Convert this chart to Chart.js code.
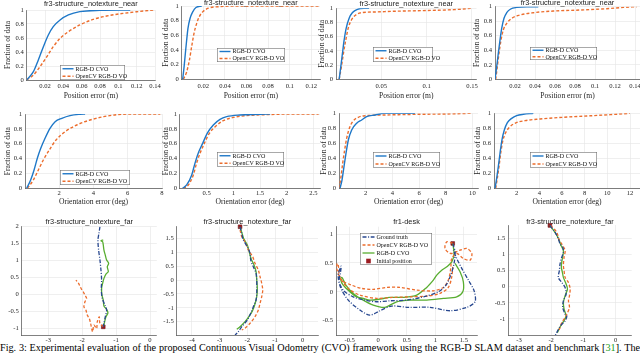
<!DOCTYPE html>
<html><head><meta charset="utf-8">
<script src="https://cdn.jsdelivr.net/npm/chart.js@4/dist/chart.umd.min.js"></script>
<style>
html,body{margin:0;padding:0;background:#fff;width:640px;height:358px;overflow:hidden;position:relative}
.c{position:absolute}
#cap{position:absolute;left:0;top:342px;width:640px;height:14px;overflow:hidden;font-family:"Liberation Serif",serif;font-size:10.2px;line-height:12px;text-align:justify;text-align-last:justify;color:#000}
</style></head><body>
<div id="cap">Fig. 3: Experimental evaluation of the proposed Continuous Visual Odometry (CVO) framework using the RGB-D SLAM dataset and benchmark [<span style="color:#23a023">31</span>]. The</div>
<script>
// ---------- DATA ----------
const fracTicks = [0, 0.2, 0.4, 0.6, 0.8, 1];
const pos1XTicks = [0.02, 0.04, 0.06, 0.08, 0.1, 0.12, 0.14];
const pos2XTicks = [0.02, 0.04, 0.06, 0.08, 0.1, 0.12];
const pos3XTicks = [0.05, 0.1, 0.15];
const pos4XTicks = [0.02, 0.04, 0.06, 0.08, 0.1, 0.12, 0.14];
const ori5XTicks = [2, 4, 6, 8];
const ori6XTicks = [0.5, 1, 1.5, 2, 2.5];
const ori7XTicks = [2, 4, 6, 8, 10];
const ori8XTicks = [2, 4, 6, 8, 10, 12];
const traj9XTicks = [-3, -2, -1, 0];
const traj9YTicks = [-1, -0.5, 0, 0.5, 1, 1.5, 2];
const traj10XTicks = [-4, -3, -2, -1, 0];
const traj10YTicks = [-1.5, -1, -0.5, 0, 0.5, 1, 1.5];
const traj11XTicks = [-0.5, 0, 0.5, 1, 1.5];
const traj11YTicks = [-0.5, 0, 0.5, 1];
const traj12XTicks = [-3, -2, -1, 0];
const traj12YTicks = [-1, -0.5, 0, 0.5, 1, 1.5];

const titleNear = 'fr3-structure_notexture_near';
const titleFar = 'fr3-structure_notexture_far';
const titleDesk = 'fr1-desk';
const labelCVO = 'RGB-D CVO';
const labelOCV = 'OpenCV RGB-D VO';
const labelGT = 'Ground truth';
const labelInit = 'Initial position';

// position error CDFs (m)
const pos1_cvo_err = [0, 0.0073, 0.0127, 0.0182, 0.0236, 0.029, 0.0364, 0.0455, 0.058, 0.08, 0.113];
const pos1_cvo_frac = [0, 0.119, 0.286, 0.476, 0.643, 0.762, 0.857, 0.929, 0.976, 0.995, 1];
const pos1_ocv_err = [0, 0.0073, 0.0145, 0.0218, 0.029, 0.0364, 0.0455, 0.058, 0.0727, 0.0873, 0.1055, 0.1236, 0.138];
const pos1_ocv_frac = [0, 0.07, 0.19, 0.33, 0.476, 0.595, 0.69, 0.786, 0.867, 0.914, 0.952, 0.98, 1];

const pos2_cvo_err = [0.0009, 0.0022, 0.0034, 0.0046, 0.0058, 0.0077, 0.0102, 0.0132, 0.0185];
const pos2_cvo_frac = [0, 0.17, 0.355, 0.536, 0.695, 0.83, 0.92, 0.98, 1];
const pos2_ocv_err = [0.0015, 0.0046, 0.0071, 0.0092, 0.0114, 0.0138, 0.0163, 0.0194, 0.0246, 0.0338, 0.0508, 0.128];
const pos2_ocv_frac = [0, 0.1, 0.26, 0.445, 0.627, 0.76, 0.855, 0.92, 0.97, 0.99, 1, 1];

const pos3_cvo_err = [0.0035, 0.0053, 0.0071, 0.009, 0.0112, 0.0145, 0.0182, 0.0237, 0.031, 0.0365];
const pos3_cvo_frac = [0, 0.18, 0.366, 0.554, 0.718, 0.86, 0.94, 0.986, 1, 1];
const pos3_ocv_err = [0.0035, 0.006, 0.0082, 0.0108, 0.0134, 0.017, 0.0218, 0.029, 0.042, 0.064, 0.093, 0.13, 0.15];
const pos3_ocv_frac = [0, 0.18, 0.366, 0.554, 0.718, 0.835, 0.906, 0.94, 0.948, 0.958, 0.967, 0.981, 1];

const pos4_cvo_err = [0, 0.0017, 0.0033, 0.005, 0.0067, 0.009, 0.0117, 0.0157, 0.0217, 0.0317, 0.0433];
const pos4_cvo_frac = [0, 0.174, 0.358, 0.54, 0.70, 0.84, 0.917, 0.968, 0.99, 1, 1];
const pos4_ocv_err = [0.0007, 0.0023, 0.004, 0.006, 0.0083, 0.0117, 0.0167, 0.025, 0.0383, 0.0583, 0.085, 0.1117, 0.1283, 0.1417];
const pos4_ocv_frac = [0, 0.174, 0.358, 0.54, 0.68, 0.77, 0.84, 0.885, 0.917, 0.94, 0.954, 0.972, 0.99, 1];

// orientation error CDFs (deg)
const ori5_cvo_err = [0.1, 0.33, 0.53, 0.72, 0.92, 1.17, 1.46, 1.76, 2.15, 2.63, 3.22, 3.51];
const ori5_cvo_frac = [0, 0.112, 0.247, 0.404, 0.538, 0.673, 0.807, 0.897, 0.942, 0.978, 0.996, 1];
const ori5_ocv_err = [0.14, 0.49, 0.78, 1.07, 1.42, 1.81, 2.34, 3.02, 3.8, 4.59, 5.37, 6.15, 7.9];
const ori5_ocv_frac = [0, 0.112, 0.247, 0.381, 0.516, 0.65, 0.762, 0.852, 0.919, 0.964, 0.991, 1, 1];

const ori6_cvo_err = [0.05, 0.125, 0.22, 0.28, 0.34, 0.425, 0.51, 0.625, 0.75, 0.875, 1.125, 1.5, 1.69];
const ori6_cvo_frac = [0, 0.045, 0.18, 0.336, 0.47, 0.605, 0.74, 0.852, 0.928, 0.964, 0.987, 0.996, 1];
const ori6_ocv_err = [0.06, 0.156, 0.25, 0.31, 0.375, 0.456, 0.55, 0.675, 0.81, 1.0, 1.25, 1.625, 2.125, 2.6];
const ori6_ocv_frac = [0, 0.045, 0.18, 0.336, 0.47, 0.605, 0.74, 0.838, 0.91, 0.955, 0.978, 0.991, 1, 1];

const ori7_cvo_err = [0.075, 0.225, 0.375, 0.525, 0.7, 0.95, 1.325, 1.7, 2.075, 2.7, 3.075, 3.325, 5.7];
const ori7_cvo_frac = [0, 0.11, 0.29, 0.467, 0.644, 0.778, 0.867, 0.911, 0.956, 0.978, 0.991, 1, 1];
const ori7_ocv_err = [0.025, 0.15, 0.275, 0.425, 0.575, 0.775, 1.025, 1.45, 2.075, 3.575, 6.075, 8.075, 9.95];
const ori7_ocv_frac = [0, 0.156, 0.333, 0.511, 0.667, 0.8, 0.889, 0.947, 0.969, 0.978, 0.987, 0.991, 1];

const ori8_cvo_err = [0.09, 0.235, 0.38, 0.53, 0.7, 0.91, 1.18, 1.56, 2.0, 2.59, 3.47];
const ori8_cvo_frac = [0, 0.133, 0.289, 0.467, 0.644, 0.778, 0.876, 0.933, 0.969, 0.987, 1];
const ori8_ocv_err = [0.15, 0.29, 0.44, 0.59, 0.76, 1.0, 1.35, 1.85, 2.74, 4.06, 6.12, 8.18, 10.24, 12.0];
const ori8_ocv_frac = [0, 0.133, 0.289, 0.467, 0.622, 0.733, 0.813, 0.867, 0.902, 0.924, 0.947, 0.964, 0.982, 1];

// trajectories (m)
const traj9_gt_x = [-1.475, -1.504, -1.534, -1.514, -1.475, -1.445, -1.426, -1.435, -1.406, -1.327, -1.278, -1.318, -1.357, -1.377];
const traj9_gt_y = [2.0, 1.805, 1.607, 1.311, 1.015, 0.719, 0.423, 0.127, -0.118, -0.317, -0.464, -0.663, -0.858, -0.959];
const traj9_cvo_x = [-1.377, -1.337, -1.298, -1.239, -1.298, -1.357, -1.377, -1.416, -1.426, -1.396, -1.357, -1.298, -1.229, -1.259, -1.219, -1.278, -1.318, -1.357, -1.377, -1.396, -1.445, -1.377];
const traj9_cvo_y = [-0.959, -0.81, -0.663, -0.544, -0.414, -0.346, -0.169, -0.021, 0.177, 0.325, 0.473, 0.601, 0.669, 0.817, 0.917, 1.015, 1.163, 1.311, 1.459, 1.556, 1.586, 1.607];
const traj9_ocv_x = [-1.377, -1.475, -1.495, -1.554, -1.573, -1.652, -1.691, -1.75, -1.79, -1.849, -1.888, -1.947, -1.917, -1.868, -1.917, -1.967, -2.016, -2.065, -2.104, -2.143, -2.183];
const traj9_ocv_y = [-0.959, -0.858, -0.663, -0.81, -1.006, -0.908, -1.105, -0.858, -0.71, -0.612, -0.464, -0.366, -0.218, -0.118, -0.021, 0.077, 0.148, 0.246, 0.325, 0.373, 0.423];
const traj9_init = [-1.377, -0.959];

const traj10_gt_x = [-2.263, -2.202, -2.144, -2.0, -1.903, -1.878, -1.784, -1.686, -1.661, -1.661, -1.661, -1.686, -1.784, -1.878, -2.0, -2.202, -2.324, -2.443];
const traj10_gt_y = [1.917, 1.68, 1.439, 1.198, 0.96, 0.719, 0.478, 0.241, 0, -0.241, -0.478, -0.719, -0.96, -1.198, -1.439, -1.68, -1.86, -1.978];
const traj10_cvo_x = [-2.263, -2.19, -2.119, -2.0, -1.95, -1.903, -1.855, -1.759, -1.686, -1.661, -1.64, -1.661, -1.735, -1.831, -1.964, -2.083, -2.263, -2.382];
const traj10_cvo_y = [1.917, 1.68, 1.463, 1.259, 1.079, 0.899, 0.743, 0.54, 0.3, 0, -0.3, -0.6, -0.899, -1.139, -1.343, -1.499, -1.68, -1.775];
const traj10_ocv_x = [-2.263, -2.202, -2.083, -1.964, -1.807, -1.723, -1.604, -1.542, -1.481, -1.445, -1.481, -1.542, -1.604, -1.723, -1.903, -2.083, -2.202];
const traj10_ocv_y = [1.799, 1.558, 1.378, 1.079, 0.838, 0.6, 0.36, 0.119, -0.119, -0.36, -0.6, -0.838, -1.079, -1.32, -1.558, -1.737, -1.799];
const traj10_init = [-2.263, 1.917];

const traj11_gt_x = [1.305, 1.346, 1.328, 1.27, 1.188, 1.053, 0.789, 0.498, 0.205, -0.028, -0.233, -0.439, -0.602, -0.684, -0.66, -0.649, -0.702, -0.66, -0.526, -0.321, -0.146, 0.03, 0.235, 0.526, 0.907, 1.258, 1.551, 1.696, 1.679, 1.579, 1.463, 1.375, 1.316];
const traj11_gt_y = [0.839, 0.693, 0.492, 0.289, 0.116, 0.0, -0.087, -0.144, -0.156, -0.173, -0.144, -0.087, 0.017, 0.173, 0.347, 0.445, 0.289, 0.076, -0.144, -0.317, -0.404, -0.329, -0.248, -0.27, -0.27, -0.329, -0.27, -0.173, 0.017, 0.203, 0.406, 0.579, 0.723];
const traj11_ocv_x = [1.305, 1.2, 1.17, 1.27, 1.433, 1.551, 1.639, 1.609, 1.491, 1.375, 1.288, 1.27, 1.228, 1.14, 0.965, 0.674, 0.381, 0.147, -0.088, -0.291, -0.467, -0.642, -0.72, -0.72, -0.7, -0.672, -0.526, -0.321, -0.028, 0.263, 0.556, 0.849, 1.082, 1.228, 1.288, 1.305];
const traj11_ocv_y = [0.839, 0.867, 0.752, 0.665, 0.723, 0.752, 0.665, 0.549, 0.579, 0.665, 0.579, 0.406, 0.203, 0.076, 0.017, 0.029, 0.076, 0.076, 0.042, 0.059, 0.116, 0.203, 0.376, 0.492, 0.463, 0.26, 0.059, -0.057, -0.114, -0.097, -0.087, -0.075, -0.028, 0.076, 0.26, 0.433];
const traj11_cvo_x = [1.305, 1.328, 1.288, 1.2, 1.112, 1.025, 0.965, 0.849, 0.674, 0.439, 0.205, 0.0, -0.146, -0.263, -0.379, -0.496, -0.614, -0.66, -0.637, -0.567, -0.439, -0.263, -0.088, 0.118, 0.323, 0.556, 0.849, 1.14, 1.375, 1.481, 1.491, 1.433, 1.346];
const traj11_cvo_y = [0.839, 0.665, 0.52, 0.433, 0.376, 0.289, 0.203, 0.076, -0.057, -0.097, -0.097, -0.132, -0.144, -0.114, -0.087, 0.0, 0.116, 0.215, 0.25, 0.116, -0.028, -0.144, -0.23, -0.27, -0.173, -0.144, -0.144, -0.114, -0.087, 0.0, 0.173, 0.347, 0.492];
const traj11_init = [1.305, 0.839];

const traj12_gt_x = [-2.038, -1.881, -1.777, -1.724, -1.64, -1.62, -1.672, -1.724, -1.745, -1.777, -1.672, -1.567, -1.536, -1.62, -1.64, -1.567, -1.514, -1.567, -1.672, -1.745, -1.828, -1.881];
const traj12_gt_y = [1.906, 1.697, 1.49, 1.334, 1.228, 1.072, 0.916, 0.709, 0.5, 0.291, 0.134, -0.022, -0.228, -0.438, -0.647, -0.853, -0.906, -1.063, -1.166, -1.272, -1.428, -1.531];
const traj12_cvo_x = [-2.038, -1.85, -1.755, -1.693, -1.62, -1.64, -1.672, -1.683, -1.651, -1.62, -1.536, -1.494, -1.567, -1.62, -1.599, -1.536, -1.62, -1.724, -1.808];
const traj12_cvo_y = [1.906, 1.647, 1.459, 1.281, 1.125, 0.938, 0.759, 0.603, 0.447, 0.291, 0.084, -0.072, -0.281, -0.491, -0.697, -0.906, -1.084, -1.25, -1.428];
const traj12_ocv_x = [-2.016, -1.828, -1.745, -1.672, -1.567, -1.599, -1.62, -1.599, -1.567, -1.463, -1.411, -1.432, -1.463, -1.432, -1.514, -1.567, -1.672, -1.724, -1.777];
const traj12_ocv_y = [1.906, 1.697, 1.438, 1.334, 1.125, 0.916, 0.656, 0.5, 0.291, 0.134, -0.072, -0.281, -0.438, -0.647, -0.853, -0.959, -1.116, -1.272, -1.375];
const traj12_init = [-2.038, 1.906];

// ---------- STYLE / HELPERS ----------
const SERIF = '"Liberation Serif", "DejaVu Serif", serif';
const SANS = '"Liberation Sans", Arial, sans-serif';
const C_BLUE = '#1f78c8', C_ORANGE = '#ec6d2d', C_GT = '#27478f', C_GREEN = '#58ad30', C_RED = '#9c1c22';
const TXT = '#262626';
const TITLE_SIZE = 7.4, AXT_SIZE = 7.6, TICK_SIZE = 6.6, LEG_SIZE = 6;

function pts(xs, ys) { return xs.map((x, i) => ({x: x, y: ys[i]})); }

function cdfSets(cx, cy, ox, oy) {
  return [
    {label: labelCVO, data: pts(cx, cy), borderColor: C_BLUE, borderWidth: 1.4, cubicInterpolationMode: 'monotone'},
    {label: labelOCV, data: pts(ox, oy), borderColor: C_ORANGE, borderWidth: 1.4, borderDash: [3, 2], cubicInterpolationMode: 'monotone'}
  ];
}
function trajSets(gx, gy, ox, oy, cx, cy, init) {
  return [
    {label: labelGT, data: pts(gx, gy), borderColor: C_GT, borderWidth: 1.3, borderDash: [4, 1.6, 1, 1.6], tension: 0.3},
    {label: labelOCV, data: pts(ox, oy), borderColor: C_ORANGE, borderWidth: 1.3, borderDash: [3, 2], tension: 0.3},
    {label: labelCVO, data: pts(cx, cy), borderColor: C_GREEN, borderWidth: 1.3, tension: 0.3},
    {label: labelInit, data: [{x: init[0], y: init[1]}], showLine: false, pointRadius: 2.6, pointStyle: 'rect',
     backgroundColor: C_RED, borderColor: '#6a1014', borderWidth: 0.6, clip: false, isMarker: true}
  ];
}
function fmt(v) { return String(Math.round(v * 1000) / 1000); }

const boxLegend = {
  id: 'boxLegend',
  afterDatasetsDraw(chart, args, opts) {
    if (!opts || !opts.rect) return;
    const ctx = chart.ctx;
    const [px, py, w, h] = opts.rect;
    const x = px - opts.origin[0], y = py - opts.origin[1];
    const items = chart.data.datasets;
    ctx.save();
    ctx.fillStyle = '#fff';
    ctx.fillRect(x, y, w, h);
    ctx.strokeStyle = '#707070'; ctx.lineWidth = 0.6;
    ctx.strokeRect(x + 0.3, y + 0.3, w - 0.6, h - 0.6);
    const n = items.length, rowH = h / n;
    ctx.font = LEG_SIZE + 'px ' + SERIF;
    ctx.textBaseline = 'middle'; ctx.fillStyle = '#111';
    items.forEach((d, i) => {
      const cy = y + (i + 0.5) * rowH;
      const sx = x + 2.5, sl = opts.sample || 11;
      if (d.isMarker) {
        ctx.fillStyle = C_RED; ctx.fillRect(sx + sl / 2 - 2.3, cy - 2.3, 4.6, 4.6);
      } else {
        ctx.strokeStyle = d.borderColor; ctx.lineWidth = d.borderWidth;
        ctx.setLineDash(d.borderDash || []);
        ctx.beginPath(); ctx.moveTo(sx, cy); ctx.lineTo(sx + sl, cy); ctx.stroke();
        ctx.setLineDash([]);
      }
      ctx.fillStyle = '#111';
      ctx.fillText(d.label, sx + sl + 2, cy + 0.3);
    });
    ctx.restore();
  }
};

function makeChart(o) {
  const {l, t, r, b} = o.area;
  const tPad = o.titlePad || 0;
  const titleH = o.title ? TITLE_SIZE * 1.2 + tPad : 0;
  const yW = o.yW, xH = o.xH, mr = (o.mr == null ? 10 : o.mr);
  const cl = Math.floor(l - yW - 1), ct = Math.floor(t - titleH - 5);
  const cr = Math.ceil(r + mr), cb = Math.ceil(b + xH + 1);
  const W = cr - cl, H = cb - ct;
  const div = document.createElement('div');
  div.className = 'c';
  div.style.left = cl + 'px'; div.style.top = ct + 'px';
  div.style.width = W + 'px'; div.style.height = H + 'px';
  const cv = document.createElement('canvas');
  cv.width = W; cv.height = H; cv.style.width = W + 'px'; cv.style.height = H + 'px';
  div.appendChild(cv); document.body.appendChild(div);
  const axisCommon = (ticksArr, pad) => ({
    type: 'linear',
    afterBuildTicks: s => { s.ticks = ticksArr.map(v => ({value: v})); },
    ticks: {font: {family: SERIF, size: TICK_SIZE}, color: TXT, padding: pad, autoSkip: false, maxRotation: 0, callback: v => fmt(v)},
    grid: {color: '#e4e4e4', lineWidth: 0.6, drawTicks: false},
    border: {color: '#4a4a4a', width: 0.7}
  });
  const xAxis = Object.assign(axisCommon(o.xTicks, o.xTickPad), {
    min: o.xMin, max: o.xMax, position: 'bottom',
    afterFit: s => { s.height = xH; s.paddingLeft = 0; s.paddingRight = 0; },
    title: o.xTitle ? {display: true, text: o.xTitle, font: {family: SERIF, size: AXT_SIZE}, color: TXT, padding: 0} : {display: false}
  });
  const yAxis = Object.assign(axisCommon(o.yTicks, o.yTickPad || 3), {
    min: o.yMin, max: o.yMax, position: 'left',
    afterFit: s => { s.width = yW; s.paddingTop = 0; s.paddingBottom = 0; },
    title: o.yTitle ? {display: true, text: o.yTitle, font: {family: SERIF, size: AXT_SIZE}, color: TXT, padding: 0} : {display: false}
  });
  new Chart(cv, {
    type: 'scatter',
    data: {datasets: o.datasets.map(d => Object.assign({showLine: true, pointRadius: 0, fill: false}, d))},
    options: {
      responsive: false, animation: false, devicePixelRatio: 1,
      layout: {padding: {left: (l - yW) - cl, top: (t - titleH) - ct, right: cr - r, bottom: cb - (b + xH)}},
      scales: {x: xAxis, y: yAxis},
      plugins: {
        legend: {display: false}, tooltip: {enabled: false},
        title: o.title ? {display: true, text: o.title, fullSize: false, color: '#1a1a1a',
          font: {family: SANS, size: TITLE_SIZE, weight: 'normal'}, padding: {top: 0, bottom: tPad}} : {display: false},
        boxLegend: o.legend ? {rect: o.legend, origin: [cl, ct], sample: o.legendSample} : {}
      }
    },
    plugins: [boxLegend]
  });
}

// ---------- ROW 1: position error ----------
makeChart({area: {l: 26.7, t: 10, r: 155, b: 80}, xMin: 0, xMax: 0.14, yMin: 0, yMax: 1,
  xTicks: pos1XTicks, yTicks: fracTicks, xTickPad: 2.7, yW: 23.1, xH: 20.5,
  title: titleNear, titlePad: 1.6, xTitle: 'Position error (m)', yTitle: 'Fraction of data',
  datasets: cdfSets(pos1_cvo_err, pos1_cvo_frac, pos1_ocv_err, pos1_ocv_frac), legend: [60, 65, 65, 15]});
makeChart({area: {l: 181.7, t: 6, r: 320, b: 79.3}, xMin: 0, xMax: 0.128, yMin: 0, yMax: 1,
  xTicks: pos2XTicks, yTicks: fracTicks, xTickPad: 2.7, yW: 20.1, xH: 21.2,
  title: titleNear, titlePad: -1.5, xTitle: 'Position error (m)', yTitle: 'Fraction of data',
  datasets: cdfSets(pos2_cvo_err, pos2_cvo_frac, pos2_ocv_err, pos2_ocv_frac), legend: [217, 48, 68, 14]});
makeChart({area: {l: 336, t: 8.3, r: 476.5, b: 79.3}, xMin: 0, xMax: 0.155, yMin: 0, yMax: 1,
  xTicks: pos3XTicks, yTicks: fracTicks, xTickPad: 2.7, yW: 18.7, xH: 21.2,
  title: titleNear, titlePad: -0.1, xTitle: 'Position error (m)', yTitle: 'Fraction of data',
  datasets: cdfSets(pos3_cvo_err, pos3_cvo_frac, pos3_ocv_err, pos3_ocv_frac), legend: [373, 47, 60, 15]});
makeChart({area: {l: 495, t: 6.7, r: 640, b: 79.3}, xMin: 0, xMax: 0.145, yMin: 0, yMax: 1,
  xTicks: pos4XTicks, yTicks: fracTicks, xTickPad: 2.7, yW: 22.4, xH: 21.2,
  title: titleNear, titlePad: -1, xTitle: 'Position error (m)', yTitle: 'Fraction of data',
  datasets: cdfSets(pos4_cvo_err, pos4_cvo_frac, pos4_ocv_err, pos4_ocv_frac), legend: [530, 47, 67, 13]});

// ---------- ROW 2: orientation error ----------
makeChart({area: {l: 25, t: 114, r: 162, b: 188.3}, xMin: 0, xMax: 8, yMin: 0, yMax: 1,
  xTicks: ori5XTicks, yTicks: fracTicks, xTickPad: 1, yW: 21.1, xH: 17.9,
  xTitle: 'Orientation error (deg)', yTitle: 'Fraction of data',
  datasets: cdfSets(ori5_cvo_err, ori5_cvo_frac, ori5_ocv_err, ori5_ocv_frac), legend: [60, 170, 70, 15]});
makeChart({area: {l: 180, t: 114, r: 320, b: 188.3}, xMin: 0, xMax: 2.625, yMin: 0, yMax: 1,
  xTicks: ori6XTicks, yTicks: fracTicks, xTickPad: 1, yW: 18.4, xH: 17.9,
  xTitle: 'Orientation error (deg)', yTitle: 'Fraction of data',
  datasets: cdfSets(ori6_cvo_err, ori6_cvo_frac, ori6_ocv_err, ori6_ocv_frac), legend: [217, 152, 67, 15]});
makeChart({area: {l: 339, t: 113.3, r: 478, b: 188.3}, xMin: 0, xMax: 10.42, yMin: 0, yMax: 1,
  xTicks: ori7XTicks, yTicks: fracTicks, xTickPad: 1, yW: 19.4, xH: 17.9,
  xTitle: 'Orientation error (deg)', yTitle: 'Fraction of data',
  datasets: cdfSets(ori7_cvo_err, ori7_cvo_frac, ori7_ocv_err, ori7_ocv_frac), legend: [373, 152, 67, 16]});
makeChart({area: {l: 494, t: 113.3, r: 640, b: 188.3}, xMin: 0, xMax: 12.88, yMin: 0, yMax: 1,
  xTicks: ori8XTicks, yTicks: fracTicks, xTickPad: 1, yW: 20.4, xH: 17.9,
  xTitle: 'Orientation error (deg)', yTitle: 'Fraction of data',
  datasets: cdfSets(ori8_cvo_err, ori8_cvo_frac, ori8_ocv_err, ori8_ocv_frac), legend: [530, 152, 67, 16]});

// ---------- ROW 3: trajectories ----------
makeChart({area: {l: 21.7, t: 226.7, r: 156.8, b: 335}, xMin: -3.78, xMax: 0.2, yMin: -1.2, yMax: 2.0,
  xTicks: traj9XTicks, yTicks: traj9YTicks, xTickPad: 1.5, yW: 18, xH: 10,
  title: titleFar, titlePad: 0.6,
  datasets: trajSets(traj9_gt_x, traj9_gt_y, traj9_ocv_x, traj9_ocv_y, traj9_cvo_x, traj9_cvo_y, traj9_init)});
makeChart({area: {l: 176.7, t: 226.7, r: 318, b: 335}, xMin: -4.55, xMax: 0.55, yMin: -1.98, yMax: 1.92,
  xTicks: traj10XTicks, yTicks: traj10YTicks, xTickPad: 1.5, yW: 16, xH: 10,
  title: titleFar, titlePad: 0.6,
  datasets: trajSets(traj10_gt_x, traj10_gt_y, traj10_ocv_x, traj10_ocv_y, traj10_cvo_x, traj10_cvo_y, traj10_init)});
makeChart({area: {l: 336, t: 226.7, r: 477, b: 335}, xMin: -0.74, xMax: 1.73, yMin: -0.75, yMax: 1.13,
  xTicks: traj11XTicks, yTicks: traj11YTicks, xTickPad: 1.5, yW: 16, xH: 10,
  title: titleDesk, titlePad: 0.6,
  datasets: trajSets(traj11_gt_x, traj11_gt_y, traj11_ocv_x, traj11_ocv_y, traj11_cvo_x, traj11_cvo_y, traj11_init),
  legend: [360, 233, 72, 32], legendSample: 12});
makeChart({area: {l: 508.3, t: 225, r: 631.7, b: 335}, xMin: -3.33, xMax: 0.5, yMin: -1.5, yMax: 1.92,
  xTicks: traj12XTicks, yTicks: traj12YTicks, xTickPad: 1.5, yW: 16, xH: 10,
  title: titleFar, titlePad: -1.1,
  datasets: trajSets(traj12_gt_x, traj12_gt_y, traj12_ocv_x, traj12_ocv_y, traj12_cvo_x, traj12_cvo_y, traj12_init)});
</script>
</body></html>
